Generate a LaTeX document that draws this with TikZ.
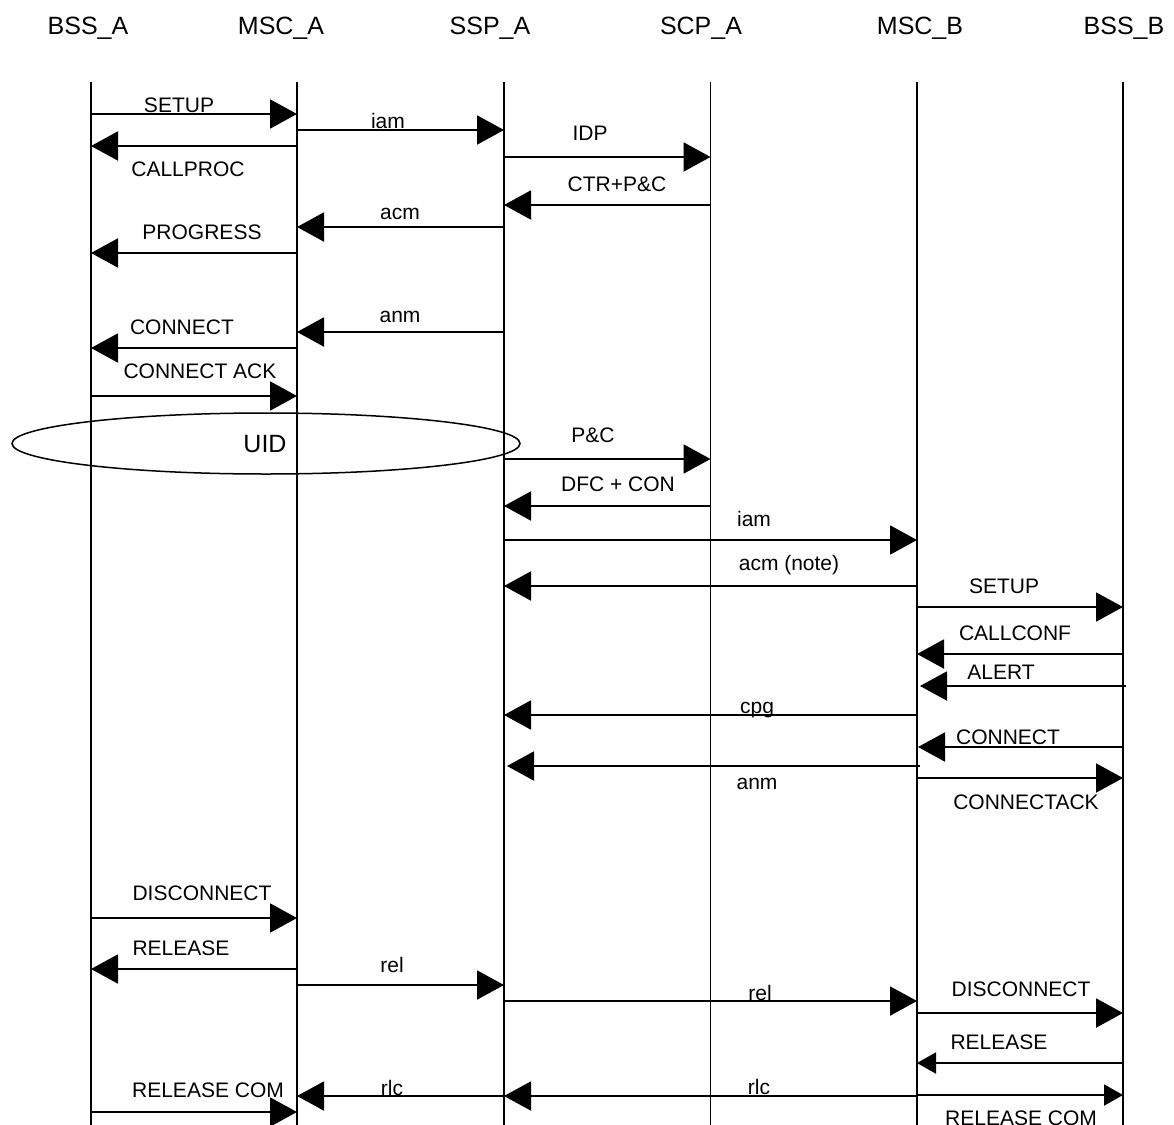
\documentclass[tikz,border=0pt]{standalone}
\usepackage{fontspec}
\setmainfont{Liberation Sans}
\usetikzlibrary{arrows.meta}

% one message: [style] name, x from, x to, y, label x, label baseline y, label text
\newcommand\sig[8][msg]{%
  \coordinate (#2-s) at (#3,#5);
  \coordinate (#2-e) at (#4,#5);
  \draw[#1] (#2-s) -- (#2-e);
  \node[lbl] (#2-l) at (#6,#7) {#8};
}

\begin{document}
\begin{tikzpicture}[x=1pt,y=-1pt,
    lifeline/.style={line width=1.6pt},
    msg/.style={line width=2pt,-{Triangle[length=27pt,width=29pt]}},
    smallmsg/.style={line width=2pt,-{Triangle[length=19pt,width=21pt]}},
    lbl/.style={anchor=base,inner sep=0pt,font=\fontsize{21}{25}\selectfont},
    head/.style={anchor=base,inner sep=0pt,font=\fontsize{25}{30}\selectfont},
  ]
  \useasboundingbox (0,0) rectangle (1174,1124);

  % entity names
  \node[head] (hBA) at (88,35)   {BSS\_A};
  \node[head] (hMA) at (281,35)  {MSC\_A};
  \node[head] (hSA) at (490,35)  {SSP\_A};
  \node[head] (hCA) at (701,35)  {SCP\_A};
  \node[head] (hMB) at (920,35)  {MSC\_B};
  \node[head] (hBB) at (1124,35) {BSS\_B};

  % lifelines
  \foreach \n/\x in {BA/91,MA/297,SA/504,CA/710.5,MB/917,BB/1123}{
    \coordinate (\n-top) at (\x,82);
    \coordinate (\n-bot) at (\x,1130);
    \draw[lifeline] (\n-top) -- (\n-bot);
  }

  % user interaction dialogue
  \draw[line width=1.5pt] (266,443.5) ellipse[x radius=254, y radius=30.5];
  \node[anchor=base,inner sep=0pt,font=\fontsize{25}{30}\selectfont] (uid) at (265,452) {UID};

  % call set-up, A side
  \sig{m1}{91}{297}{114}{179}{112.5}{SETUP}
  \sig{m2}{297}{504}{130}{388}{128}{iam}
  \sig{m3}{297}{91}{146}{188}{176.5}{CALLPROC}
  \sig{m4}{504}{710.5}{157}{590}{140.5}{IDP}
  \sig{m5}{710.5}{504}{205}{617}{191.5}{CTR+P\&C}
  \sig{m6}{504}{297}{227}{400}{219}{acm}
  \sig{m7}{297}{91}{253}{202}{239.5}{PROGRESS}
  \sig{m8}{504}{297}{332}{400}{322}{anm}
  \sig{m9}{297}{91}{348}{182}{334.5}{CONNECT}
  \sig{m10}{91}{297}{396}{200}{378.5}{CONNECT ACK}
  \sig{m11}{504}{710.5}{459}{593}{442.5}{P\&C}
  \sig{m12}{710.5}{504}{506}{618}{491.5}{DFC + CON}

  % call set-up, B side
  \sig{m13}{504}{917}{540}{754}{526}{iam}
  \sig{m14}{917}{504}{586}{789}{570}{acm (note)}
  \sig{m15}{917}{1123}{607}{1004}{593.5}{SETUP}
  \sig{m16}{1123}{917}{654}{1015}{640.5}{CALLCONF}
  \sig{m17}{1126}{920}{686}{1001}{679.5}{ALERT}
  \sig{m18}{917}{504}{715}{757}{713}{cpg}
  \sig{m19}{1123}{918}{747}{1008}{744.5}{CONNECT}
  \sig{m20}{920}{507}{766}{757}{789}{anm}
  \sig{m21}{917}{1123}{778}{1026}{809.5}{CONNECTACK}

  % release
  \sig{m22}{91}{297}{918}{202}{900.5}{DISCONNECT}
  \sig{m23}{297}{91}{969}{181}{955.5}{RELEASE}
  \sig{m24}{297}{504}{985}{392}{972}{rel}
  \sig{m25}{504}{917}{1001}{760}{1000}{rel}
  \sig{m26}{917}{1123}{1013}{1021}{996.5}{DISCONNECT}
  \sig[smallmsg]{m27}{1123}{917}{1063}{999}{1049.5}{RELEASE}
  \sig{m28}{917}{504}{1096}{759}{1094}{rlc}
  \sig[smallmsg]{m29}{917}{1123}{1095}{1021}{1125.5}{RELEASE COM}
  \sig{m30}{504}{297}{1096}{392}{1095}{rlc}
  \sig{m31}{91}{297}{1112}{208}{1097.5}{RELEASE COM}
\end{tikzpicture}
\end{document}
